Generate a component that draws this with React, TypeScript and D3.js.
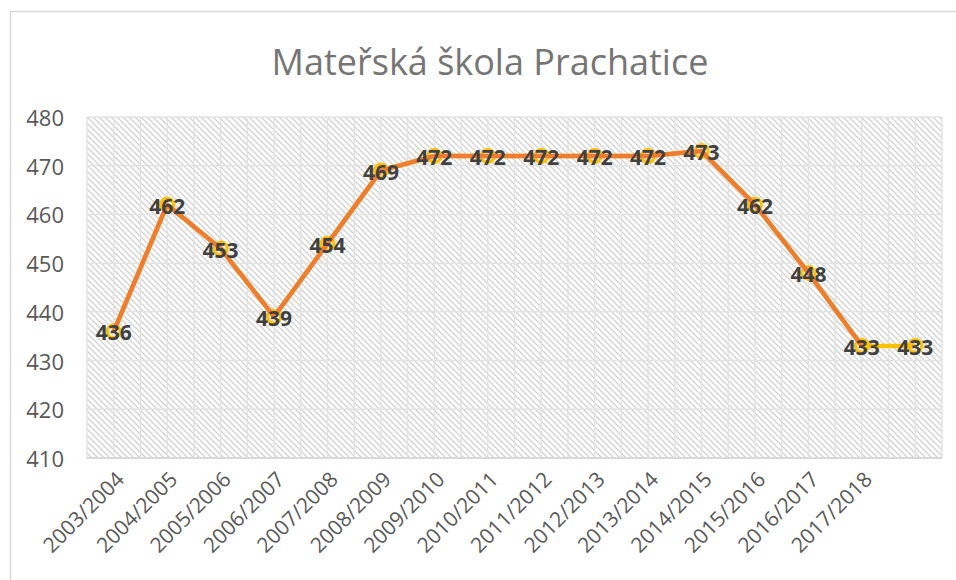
import React from "react";
import * as d3 from "d3";

const categories = [
  "2003/2004", "2004/2005", "2005/2006", "2006/2007", "2007/2008", "2008/2009",
  "2009/2010", "2010/2011", "2011/2012", "2012/2013", "2013/2014", "2014/2015",
  "2015/2016", "2016/2017", "2017/2018", "",
];
const orangeValues = [436, 462, 453, 439, 454, 469, 472, 472, 472, 472, 472, 473, 462, 448, 433];
const yellowValues = [436, 462, 453, 439, 454, 469, 472, 472, 472, 472, 472, 473, 462, 448, 433, 433];
const yTicks = [410, 420, 430, 440, 450, 460, 470, 480];
const title = "Mateřská škola Prachatice";

const W = 956;
const H = 580;
const plot = { left: 87, right: 942, top: 117, bottom: 458 };
const FONT = "'Open Sans', 'Noto Sans', sans-serif";

export default function App() {
  const x = d3
    .scaleBand<number>()
    .domain(categories.map((_, i) => i))
    .range([plot.left, plot.right])
    .paddingInner(0)
    .paddingOuter(0);
  const bw = x.bandwidth();
  const cx = (i: number) => (x(i) as number) + bw / 2;
  const y = d3.scaleLinear().domain([410, 480]).range([plot.bottom, plot.top]);

  const line = d3
    .line<number>()
    .x((_, i) => cx(i))
    .y((d) => y(d));

  const vGrid = d3.range(0, categories.length * 2 + 1).map((k) => plot.left + (k * bw) / 2);

  return (
    <svg
      width={W}
      height={H}
      style={{ position: "absolute", left: 0, top: 0, background: "#fff" }}
      fontFamily={FONT}
    >
      <defs>
        <pattern id="hatch" patternUnits="userSpaceOnUse" width="6" height="6">
          <rect width="6" height="6" fill="#ffffff" />
          <path d="M0,0 L6,6 M-1,5 L1,7 M5,-1 L7,1" stroke="#d2d2d2" strokeWidth="1.3" />
        </pattern>
      </defs>
      <rect x={0} y={0} width={W} height={H} fill="#fff" />
      {/* chart border */}
      <path d={`M10.5,${H} L10.5,11.5 L${W},11.5`} fill="none" stroke="#d9d9d9" strokeWidth={1.5} />

      {/* title */}
      <text x={490} y={75} textAnchor="middle" fontSize={36} fill="#757575">
        {title}
      </text>

      {/* plot background */}
      <rect
        x={plot.left}
        y={plot.top}
        width={plot.right - plot.left}
        height={plot.bottom - plot.top}
        fill="url(#hatch)"
      />

      {/* gridlines */}
      {yTicks.slice(1).map((t) => (
        <line key={t} x1={plot.left} x2={plot.right} y1={y(t)} y2={y(t)} stroke="#e3e3e3" strokeWidth={1.5} />
      ))}
      {vGrid.map((gx, k) => (
        <line key={k} x1={gx} x2={gx} y1={plot.top} y2={plot.bottom} stroke="#e3e3e3" strokeWidth={1.5} />
      ))}
      <line x1={plot.left} x2={plot.right} y1={plot.bottom} y2={plot.bottom} stroke="#d9d9d9" strokeWidth={2} />

      {/* y tick labels */}
      {yTicks.map((t) => (
        <text key={t} x={64} y={y(t)} textAnchor="end" dominantBaseline="central" fontSize={22} fill="#595959">
          {t}
        </text>
      ))}

      {/* x labels */}
      {categories.map((c, i) => (
        <text
          key={i}
          transform={`translate(${cx(i) + 6},${plot.bottom + 17}) rotate(-45)`}
          textAnchor="end"
          dominantBaseline="central"
          fontSize={21}
          fill="#595959"
        >
          {c}
        </text>
      ))}

      {/* yellow series */}
      <path d={line(yellowValues) || ""} fill="none" stroke="#FFC000" strokeWidth={4.5} strokeLinejoin="round" />
      {yellowValues.map((v, i) => (
        <circle key={i} cx={cx(i)} cy={y(v)} r={6.5} fill="none" stroke="#FFC000" strokeWidth={3} />
      ))}

      {/* orange series */}
      <path d={line(orangeValues) || ""} fill="none" stroke="#ED7D31" strokeWidth={4.5} strokeLinejoin="round" />

      {/* data labels */}
      {yellowValues.map((v, i) => (
        <text
          key={i}
          x={cx(i)}
          y={y(v) + 1}
          textAnchor="middle"
          dominantBaseline="central"
          fontSize={21}
          fontWeight="bold"
          fill="#404040"
        >
          {v}
        </text>
      ))}
    </svg>
  );
}
